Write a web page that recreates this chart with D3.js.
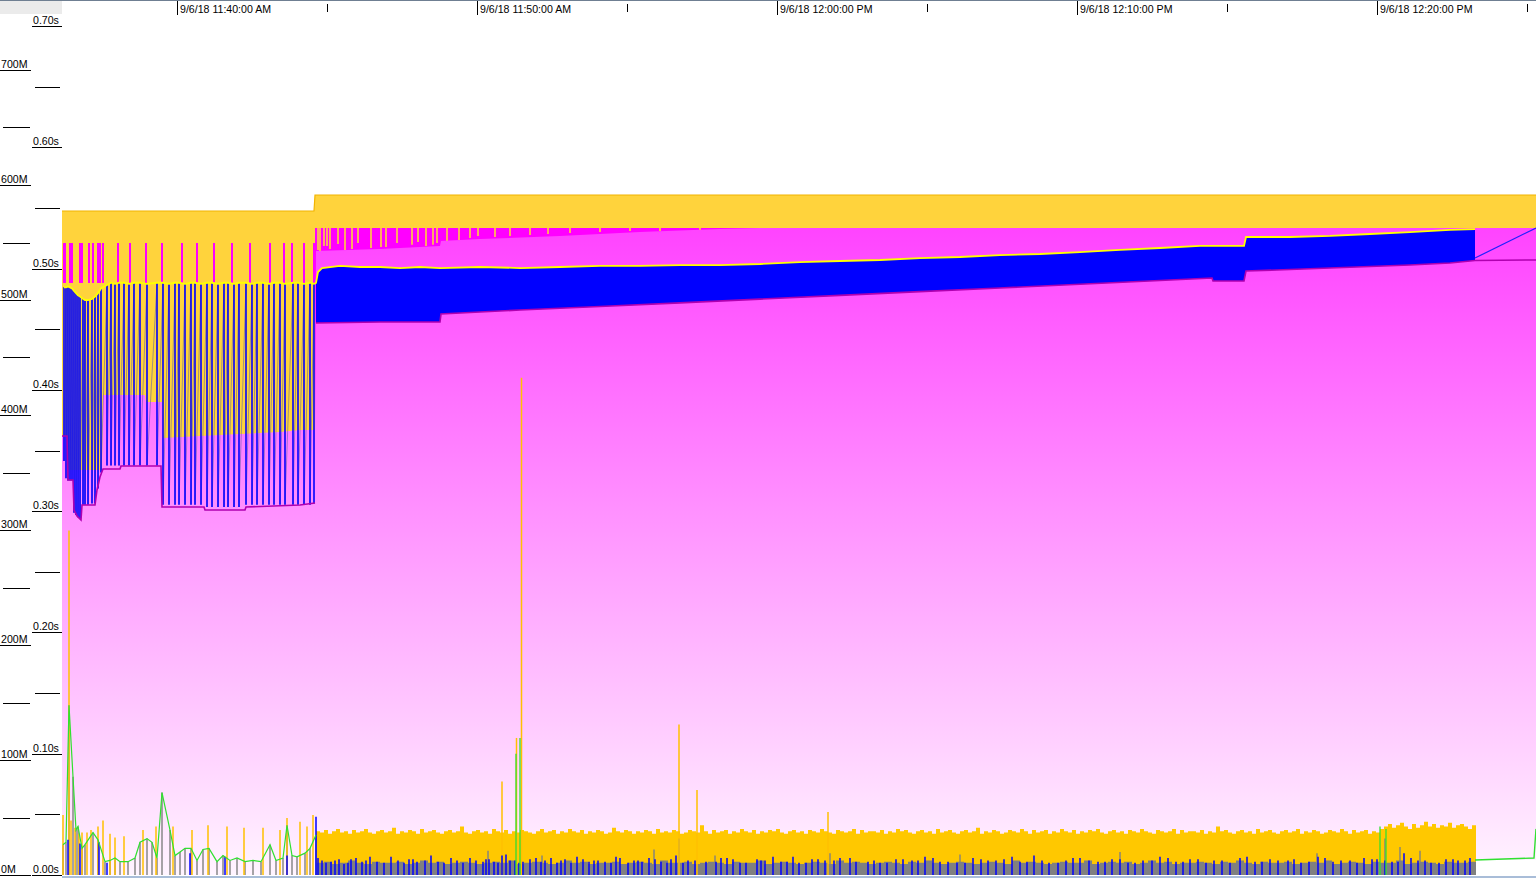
<!DOCTYPE html>
<html><head><meta charset="utf-8">
<script src="https://cdn.jsdelivr.net/npm/d3@7"></script>
<style>
html,body{margin:0;padding:0;background:#fff;overflow:hidden}
svg{display:block}
text{font-family:"Liberation Sans",Arial,sans-serif;font-size:10.6px;fill:#000}
</style></head><body>
<svg id="chart" width="1536" height="878"></svg>
<script>
// ---------- DATA (times = seconds after 9/6/18 11:40:00 AM) ----------
const memTicks = [0,100,200,300,400,500,600,700];
const memLabels = ["0M","100M","200M","300M","400M","500M","600M","700M"];
const memMinor = [50,150,250,350,450,550,650];
const secTicks = [0,100,200,300,400,500,600,700]; // ms
const secLabels = ["0.00s","0.10s","0.20s","0.30s","0.40s","0.50s","0.60s","0.70s"];
const secMinor = [50,150,250,350,450,550,650];
const timeTicks = [0,600,1200,1800,2400];
const timeLabels = ["9/6/18 11:40:00 AM","9/6/18 11:50:00 AM","9/6/18 12:00:00 PM","9/6/18 12:10:00 PM","9/6/18 12:20:00 PM"];
const timeMinor = [300,900,1500,2100,2700];

// reserved (gold area)
const reservedTime = [-232,272,274,2716];
const reservedMB = [577.4,577.4,591.3,591.3];
// committed (bright magenta, right part)
const committedTime = [274,2716];
const committedMB = [562.6,562.6];
// committed spikes (left part)
const commitSpikeTime = [-228,-226,-216,-212,-196,-192,-178,-170,-160,-156,-150,-120,-96,-64,-32,8,38,72,108,144,184,212,228,252,272];
const commitSpikeMB = [549.6,549.6,549.6,549.6,549.6,549.6,549.6,549.6,549.6,549.6,549.6,549.6,549.6,549.6,549.6,549.6,549.6,549.6,549.6,549.6,549.6,549.6,549.6,549.6,549.6];
// gaps hanging from committed (gold lines)
const gapTime = [280,284,292,298,304,320,334,348,360,386,406,416,438,468,480,496,510,518,538,562,584,600,634,664,704,740,784,844,904,964,1044];
const gapMB = [543.5,541.7,547.0,547.0,544.3,548.7,543.5,544.3,549.6,545.2,546.1,546.1,549.6,548.0,550.4,547.0,548.0,549.6,551.3,552.2,553.9,555.7,554.8,555.7,556.5,557.4,558.3,559.1,560.0,560.0,560.9];
// gen2 / older generations (pink gradient area)
const gen2Time = [-232,-222,-220,-152,-150,-66,-64,-32,-30,44,124,204,244,274,276,404,524,526,604,764,924,1084,1164,2716];
const gen2MB = [381.7,381.7,352.2,352.2,417.4,417.4,411.3,411.3,380.0,381.7,383.5,385.2,387.0,387.0,542.6,544.3,547.0,551.3,553.0,555.7,559.1,561.7,562.6,562.6];
const floorTime = [-232,2594,2596,2716];
const floorMB = [0,0,13,13];
// GC sawtooth, left part
const gcTime = [-228,-224,-220,-216,-212,-208,-204,-200,-196,-190,-186,-180,-172,-166,-160,-154,-142,-134,-126,-118,-108,-98,-88,-76,-62,-42,-30,-18,-6,2,14,26,34,46,58,68,80,92,100,112,122,136,148,158,170,182,192,204,214,230,240,252,264,272];
const gcBeforeMB = [511,511,512,511,510,508,506,504,503,501,500,500,501,503,506,510,513,515,514,515,515,514,515,515,514,515,515,514,515,515,514,515,515,514,515,515,514,515,515,514,515,515,514,515,515,514,515,515,514,515,515,514,515,514];
const gcAfterMB = [360,345,343,343,343,315,313,311,310,322,322,322,323,323,336,350,356,356,356,356,356,356,356,356,356,356,322,322,322,322,322,322,322,322,320,320,320,320,320,320,320,322,322,322,322,322,322,322,322,322,322,322,322,323];
// dense GC band, right part (envelopes)
const bandTopTime = [276,280,288,324,364,404,444,484,524,604,684,764,844,924,1004,1084,1164,1244,1324,1404,1484,1564,1644,1724,1804,1884,1964,2044,2132,2136,2224,2304,2384,2464,2544,2594];
const bandTopMB = [514.8,524.3,527.8,529.6,528.7,528.7,527.8,528.7,527.8,528.7,527.8,528.7,529.6,529.6,530.4,530.4,531.3,533.0,533.9,534.8,536.5,537.4,539.1,540.0,541.7,543.5,545.2,547.0,547.0,554.8,554.8,555.7,557.4,559.1,560.9,561.7];
const bandBottomTime = [276,404,524,526,604,684,844,1004,1164,1324,1484,1644,1804,1964,2068,2070,2132,2136,2224,2304,2384,2464,2544,2594];
const bandBottomMB = [480.0,480.9,480.9,487.8,489.6,491.3,494.3,497.5,500.8,504.0,507.3,510.5,513.7,517.0,519.1,516.5,516.5,525.2,526.5,527.8,529.1,530.4,532.2,534.4];
// post-GC minimum line, left part
const minLeftTime = [-232,-222,-220,-210,-208,-202,-194,-192,-166,-162,-156,-150,-116,-114,-34,-32,52,54,134,136,244,274];
const minLeftMB = [381.7,381.7,343.5,343.5,317.4,312.2,308.7,321.7,321.7,334.8,346.1,353.0,353.0,355.7,355.7,320.0,320.0,317.4,317.4,320.0,321.7,323.5];
const minTailTime = [2716];
const minTailMB = [534.8];
const heapTailTime = [2594,2716];
const heapTailMB = [536.5,562.6];

// ---------- pauses (seconds axis, ms) ----------
const goldGridStart = 276, goldGridStep = 8;
const goldPauseMs = [36,35,37,34,36,38,35,36,34,37,35,36,38,35,34,36,37,35,36,39,34,36,35,37,36,34,38,35,36,37,35,34,36,37,35,36,40,35,34,36,37,35,36,34,38,36,35,37,34,36,35,37,36,35,34,36,38,35,36,37,34,36,35,38,36,35,37,34,36,35,37,36,34,35,39,36,35,37,36,34,36,35,37,36,34,38,35,36,35,37,36,34,35,37,36,35,41,36,34,37,35,36,37,34,36,35,38,36,35,37,34,36,35,37,36,38,35,34,36,37,35,36,34,37,36,35,38,36,35,34,37,36,35,36,38,34,37,35,36,36,35,37,34,36,35,38,36,37,35,34,36,37,35,36,34,38,35,36,37,35,34,36,37,35,36,39,34,36,35,37,36,34,35,37,36,35,38,36,34,37,35,36,37,34,36,35,38,36,35,37,34,36,35,37,36,38,35,34,36,37,35,36,34,37,36,35,38,36,35,34,37,36,35,36,38,34,37,35,36,36,35,37,34,36,35,40,36,37,35,34,36,37,35,36,34,38,35,36,37,35,34,36,37,35,36,38,34,36,35,37,36,34,35,37,36,35,38,36,34,37,35,36,37,34,36,35,38,40,42,39,41,43,40,38,42,39,41,44,40,42,39,41,40,43,39,41,42,40,38,41,40];
const greyGridStart = 276, greyGridStep = 16;
const greyPauseMs = [10,11,9,10,12,10,9,11,10,10,11,9,10,12,10,11,9,10,11,10,9,10,11,10,12,9,10,11,10,9,10,12,10,11,9,10,10,11,9,10,11,10,9,12,10,10,11,9,10,11,10,9,11,10,10,12,9,10,11,10,9,10,11,10,9,12,10,11,10,9,10,11,10,9,11,10,12,10,9,10,11,10,9,10,11,10,9,12,10,11,10,9,10,11,10,10,12,9,10,11,10,11,9,10,12,10,11,9,10,10,11,10,9,11,10,12,10,9,11,10,10,11,9,10,11,10,12,9,10,11,10,9,11,10,10,12,9,10,11,10,9,11,10,10,11,9];
const gen0PauseTime = [-230,-218,-214,-206,-198,-192,-182,-174,-160,-150,-136,-126,-108,-70,-44,-10,28,60,98,132,170,204,218,244,258,270,648,677,687,1002,1038,1300];
const gen0PauseMs = [49.5,284,45,39,34,35,35,37,40,45,34,31,32,37,40,40,37,41,40,39,39,37,47,44,40,49.5,77,113,410,124,70,52];
const gen1PauseTime = [-230,-224,-218,-210,-204,-200,-192,-186,-170,-160,-146,-136,-126,-116,-100,-86,-76,-62,-52,-42,-32,-16,-6,4,14,26,38,50,62,78,90,104,118,134,150,166,184,196,210,218,228,238,254,264,276];
const gen1PauseMs = [25,27,140,81,37,40,22,25,35,29,11,12,14,11,11,14,27,30,27,14,68,37,16,19,22,22,12,21,22,11,16,12,14,11,12,11,25,12,14,41,16,15,18,22,33];
const greySpikeTime = [620,728,952,1002,1074,1304,1564,1884,2278,2414,2444,2484];
const greySpikeMs = [20,16,21,30,16,18,17,19,18,30,23,20];
const blueSpikeTime = [-220,-196,-158,-142,24,94,218,276,280,296,314,332,346,368,384,412,440,462,478,506,532,558,584,610,622,640,656,674,690,716,734,758,774,798,822,840,866,884,912,928,954,978,996,1020,1076,1098,1124,1158,1174,1206,1230,1256,1280,1312,1344,1380,1404,1436,1468,1494,1524,1558,1590,1620,1652,1684,1712,1742,1776,1804,1840,1868,1900,1930,1964,1996,2024,2056,2088,2124,2154,2184,2220,2246,2280,2310,2344,2372,2398,2428,2452,2480,2506,2536,2560,2584];
const blueSpikeMs = [29,26,27,10,18,15,16,48,14,10,12,9,13,11,15,10,12,13,11,16,10,12,14,11,13,10,17,12,11,14,12,10,13,15,11,12,10,14,12,11,13,10,16,12,11,14,10,13,12,11,15,10,13,12,14,11,10,13,12,15,11,10,14,12,13,11,16,10,12,14,11,13,10,12,15,11,13,10,12,14,11,13,12,10,15,11,12,14,13,11,18,12,10,13,12,14];
const blueSpike2Time = [288,306,322,340,356,376,398,426,452,470,494,520,546,570,596,616,632,648,664,682,704,726,746,766,786,810,832,854,876,900,920,942,966,986,1010,1034,1056,1086,1110,1136,1166,1190,1218,1242,1268,1294,1324,1356,1392,1418,1450,1480,1510,1540,1574,1606,1636,1668,1698,1728,1760,1790,1822,1854,1884,1914,1948,1980,2010,2040,2072,2104,2138,2168,2200,2232,2262,2294,2326,2358,2388,2414,2440,2466,2494,2522,2550,2574];
const blueSpike2Ms = [12,11,13,10,14,12,11,15,10,13,12,11,14,10,12,13,11,16,12,10,13,11,14,12,10,13,12,11,15,10,12,14,11,13,10,12,11,14,13,10,12,15,11,10,13,12,14,11,12,10,13,12,14,11,10,13,12,15,11,12,10,14,12,11,13,10,12,14,11,13,12,10,15,11,12,13,11,14,12,10,13,12,11,14,12,10,13,12];
const greenSpikeTime = [676,684,2404,2416];
const greenSpikeMs = [100,113,40,38];
const greenTailTime = [2594,2712,2716];
const greenTailMs = [12.4,14,38];

// ---------- SCALES ----------
const svg = d3.select('#chart');
const x = d3.scaleLinear().domain([-232,2716]).range([62,1536]);
const yMem = d3.scaleLinear().domain([0,700]).range([875,70]);
const ySec = d3.scaleLinear().domain([0,700]).range([875,26]);
const zip = (a,b)=>a.map((t,i)=>[t,b[i]]);
const lineMem = d3.line().x(d=>x(d[0])).y(d=>yMem(d[1]));
const lineSec = d3.line().x(d=>x(d[0])).y(d=>ySec(d[1]));
const areaMem = d3.area().x(d=>x(d[0])).y0(yMem(0)).y1(d=>yMem(d[1]));
const stepSec = d3.area().curve(d3.curveStepAfter).x(d=>x(d[0])).y0(ySec(0)).y1(d=>ySec(d[1]));

const defs = svg.append('defs');
const g1 = defs.append('linearGradient').attr('id','pinkGrad').attr('gradientUnits','userSpaceOnUse')
  .attr('x1',0).attr('y1',230).attr('x2',0).attr('y2',875);
g1.append('stop').attr('offset',0).attr('stop-color','#ff44ff');
g1.append('stop').attr('offset',1).attr('stop-color','#fff4ff');
defs.append('clipPath').attr('id','plot').append('rect').attr('x',62).attr('y',14).attr('width',1474).attr('height',862);

const plot = svg.append('g').attr('clip-path','url(#plot)');

// reserved
plot.append('path').attr('d',areaMem(zip(reservedTime,reservedMB))).attr('fill','#ffd33c');
plot.append('path').attr('d',lineMem(zip(reservedTime,reservedMB))).attr('fill','none').attr('stroke','#f2b400').attr('stroke-width',1.2);
// committed
plot.append('path').attr('d',areaMem(zip(committedTime,committedMB))).attr('fill','#ff00ff');
plot.selectAll('.cs').data(zip(commitSpikeTime,commitSpikeMB)).enter().append('line')
  .attr('x1',d=>x(d[0])).attr('x2',d=>x(d[0])).attr('y1',d=>yMem(d[1])).attr('y2',yMem(514.8))
  .attr('stroke','#ff00ff').attr('stroke-width',2);
plot.selectAll('.gp').data(zip(gapTime,gapMB)).enter().append('line')
  .attr('x1',d=>x(d[0])).attr('x2',d=>x(d[0])).attr('y1',yMem(562.6)).attr('y2',d=>yMem(d[1]))
  .attr('stroke','#ffd33c').attr('stroke-width',1.6);
// gen2 area
const g2 = zip(gen2Time,gen2MB);
const fl = zip(floorTime,floorMB).reverse();
plot.append('path').attr('d',lineMem(g2.concat(fl))+'Z').attr('fill','url(#pinkGrad)');
plot.append('path').attr('d',areaMem(zip(floorTime,floorMB))).attr('fill','#ffffff');

// dense band (right)
const bt = zip(bandTopTime,bandTopMB), bb = zip(bandBottomTime,bandBottomMB);
plot.append('path').attr('d',lineMem(bt.concat(bb.slice().reverse()))+'Z').attr('fill','#0000ff');

// sawtooth (left)
const gcs = gcTime.map((t,i)=>({t,b:gcBeforeMB[i],a:gcAfterMB[i]}));
plot.selectAll('.rise').data(gcs.slice(1)).enter().append('line')
  .attr('x1',(d,i)=>x(gcs[i].t)).attr('y1',(d,i)=>yMem(gcs[i].a))
  .attr('x2',d=>x(d.t)).attr('y2',d=>yMem(d.b))
  .attr('stroke','rgba(90,90,170,0.55)').attr('stroke-width',1);
plot.selectAll('.drop').data(gcs).enter().append('line')
  .attr('x1',d=>x(d.t)).attr('x2',d=>x(d.t)).attr('y1',d=>yMem(d.b)).attr('y2',d=>yMem(d.a))
  .attr('stroke','#0000ff').attr('stroke-width',1.6);
plot.append('path').attr('d',lineMem(zip(heapTailTime,heapTailMB))).attr('fill','none').attr('stroke','#2020ff').attr('stroke-width',1.2);

// min line
plot.append('path').attr('d',lineMem(zip(minLeftTime,minLeftMB))).attr('fill','none').attr('stroke','#b000b0').attr('stroke-width',1.6);
plot.append('path').attr('d',lineMem(bb.concat(zip(minTailTime,minTailMB)))).attr('fill','none').attr('stroke','#b000b0').attr('stroke-width',1.6);
// max line (yellow)
plot.append('path').attr('d',lineMem(gcs.map(d=>[d.t,d.b]).concat(bt))).attr('fill','none').attr('stroke','#ffff00').attr('stroke-width',1.8);

// ---------- pauses ----------
plot.append('path').attr('d',stepSec(goldPauseMs.map((m,i)=>[goldGridStart+i*goldGridStep,m]))).attr('fill','#ffc800');
plot.append('path').attr('d',stepSec(greyPauseMs.map((m,i)=>[greyGridStart+i*greyGridStep,m]))).attr('fill','#808080');
function spikes(cls,t,v,color,w){
  plot.selectAll('.'+cls).data(zip(t,v)).enter().append('line')
   .attr('x1',d=>x(d[0])).attr('x2',d=>x(d[0])).attr('y1',ySec(0)).attr('y2',d=>ySec(d[1]))
   .attr('stroke',color).attr('stroke-width',w);
}
spikes('gs',gen1PauseTime,gen1PauseMs,'#808080',1.4);
spikes('gr',greySpikeTime,greySpikeMs,'#808080',1.4);
spikes('g0',gen0PauseTime,gen0PauseMs,'#ffc000',1.5);
spikes('bl',blueSpikeTime,blueSpikeMs,'#0000ff',1.5);
spikes('bl2',blueSpike2Time,blueSpike2Ms,'#0000ff',1.5);
spikes('gn',greenSpikeTime,greenSpikeMs,'#30e030',1.3);
plot.append('path').attr('d',lineSec(zip(gen1PauseTime,gen1PauseMs))).attr('fill','none').attr('stroke','#30e030').attr('stroke-width',1.2);
plot.append('path').attr('d',lineSec(zip(greenTailTime,greenTailMs))).attr('fill','none').attr('stroke','#30e030').attr('stroke-width',1.4);

// ---------- AXES ----------
svg.append('rect').attr('x',0).attr('y',1).attr('width',62).attr('height',13).attr('fill','#ebebeb');
svg.append('line').attr('x1',0).attr('x2',1536).attr('y1',0.5).attr('y2',0.5).attr('stroke','#6f7f92');
svg.append('rect').attr('x',62).attr('y',876).attr('width',1474).attr('height',2).attr('fill','#a9bdd8');
const ax = svg.append('g').attr('shape-rendering','crispEdges');
memTicks.forEach((v,i)=>{
  const y = Math.round(yMem(v))+0.5;
  ax.append('line').attr('x1',0).attr('x2',31).attr('y1',y).attr('y2',y).attr('stroke','#000');
  svg.append('text').attr('x',1).attr('y',y-2.5).text(memLabels[i]);
});
memMinor.forEach(v=>{const y=Math.round(yMem(v))+0.5;
  ax.append('line').attr('x1',3).attr('x2',30).attr('y1',y).attr('y2',y).attr('stroke','#000');});
secTicks.forEach((v,i)=>{
  const y = Math.round(ySec(v))+0.5;
  ax.append('line').attr('x1',32).attr('x2',62).attr('y1',y).attr('y2',y).attr('stroke','#000');
  svg.append('text').attr('x',33).attr('y',y-3).text(secLabels[i]);
});
secMinor.forEach(v=>{const y=Math.round(ySec(v))+0.5;
  ax.append('line').attr('x1',35).attr('x2',60).attr('y1',y).attr('y2',y).attr('stroke','#000');});
timeTicks.forEach((t,i)=>{
  const xx = Math.round(x(t))-0.5;
  ax.append('line').attr('x1',xx).attr('x2',xx).attr('y1',1).attr('y2',15).attr('stroke','#000');
  svg.append('text').attr('x',xx+2.5).attr('y',13).text(timeLabels[i]);
});
timeMinor.forEach(t=>{const xx=Math.round(x(t))-0.5;
  ax.append('line').attr('x1',xx).attr('x2',xx).attr('y1',4).attr('y2',12).attr('stroke','#000');});
</script>
</body></html>
